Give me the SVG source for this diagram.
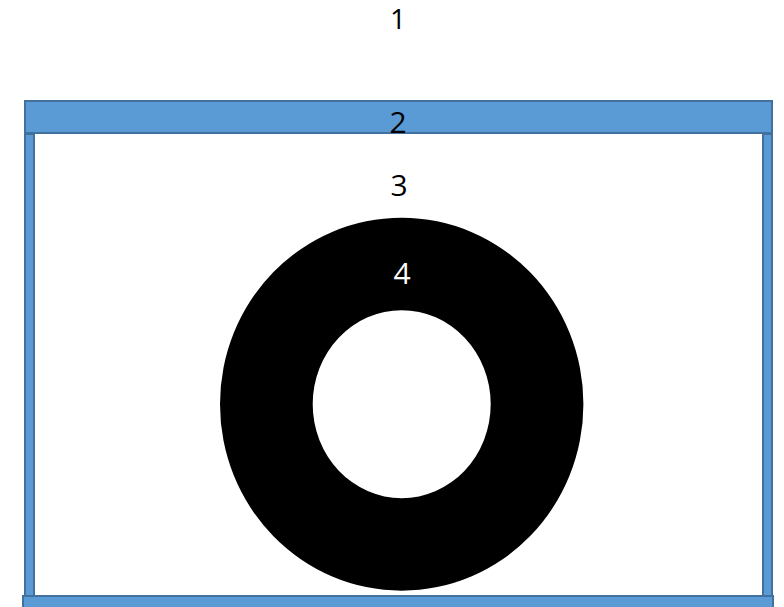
<svg xmlns="http://www.w3.org/2000/svg" width="784" height="607" viewBox="0 0 784 607">
<style>
.bar{fill:#5B9BD5;stroke:#41719C;stroke-width:2}
.t{font-family:"Open Sans","Liberation Sans",sans-serif;font-size:30px;text-anchor:middle}
</style>
<rect width="784" height="607" fill="#fff"/>
<g id="frame">
<rect class="bar" x="25" y="134" width="9" height="462"/>
<rect class="bar" x="763" y="134" width="9" height="462"/>
<rect class="bar" x="25" y="101" width="747" height="32"/>
<rect class="bar" x="23" y="596" width="750" height="14"/>
</g>
<g id="ring">
<path d="M220,404.2 a181.7,186.5 0 1,0 363.4,0 a181.7,186.5 0 1,0 -363.4,0 Z M312.7,404.2 a89,94 0 1,1 178,0 a89,94 0 1,1 -178,0 Z" fill="#000" fill-rule="evenodd"/>
</g>
<g id="labels">
<text class="t" x="398" y="29" style="font-size:28px">1</text>
<text class="t" x="398" y="133">2</text>
<text class="t" x="399" y="196">3</text>
<text class="t" x="402" y="284" fill="#fff">4</text>
</g>
</svg>
